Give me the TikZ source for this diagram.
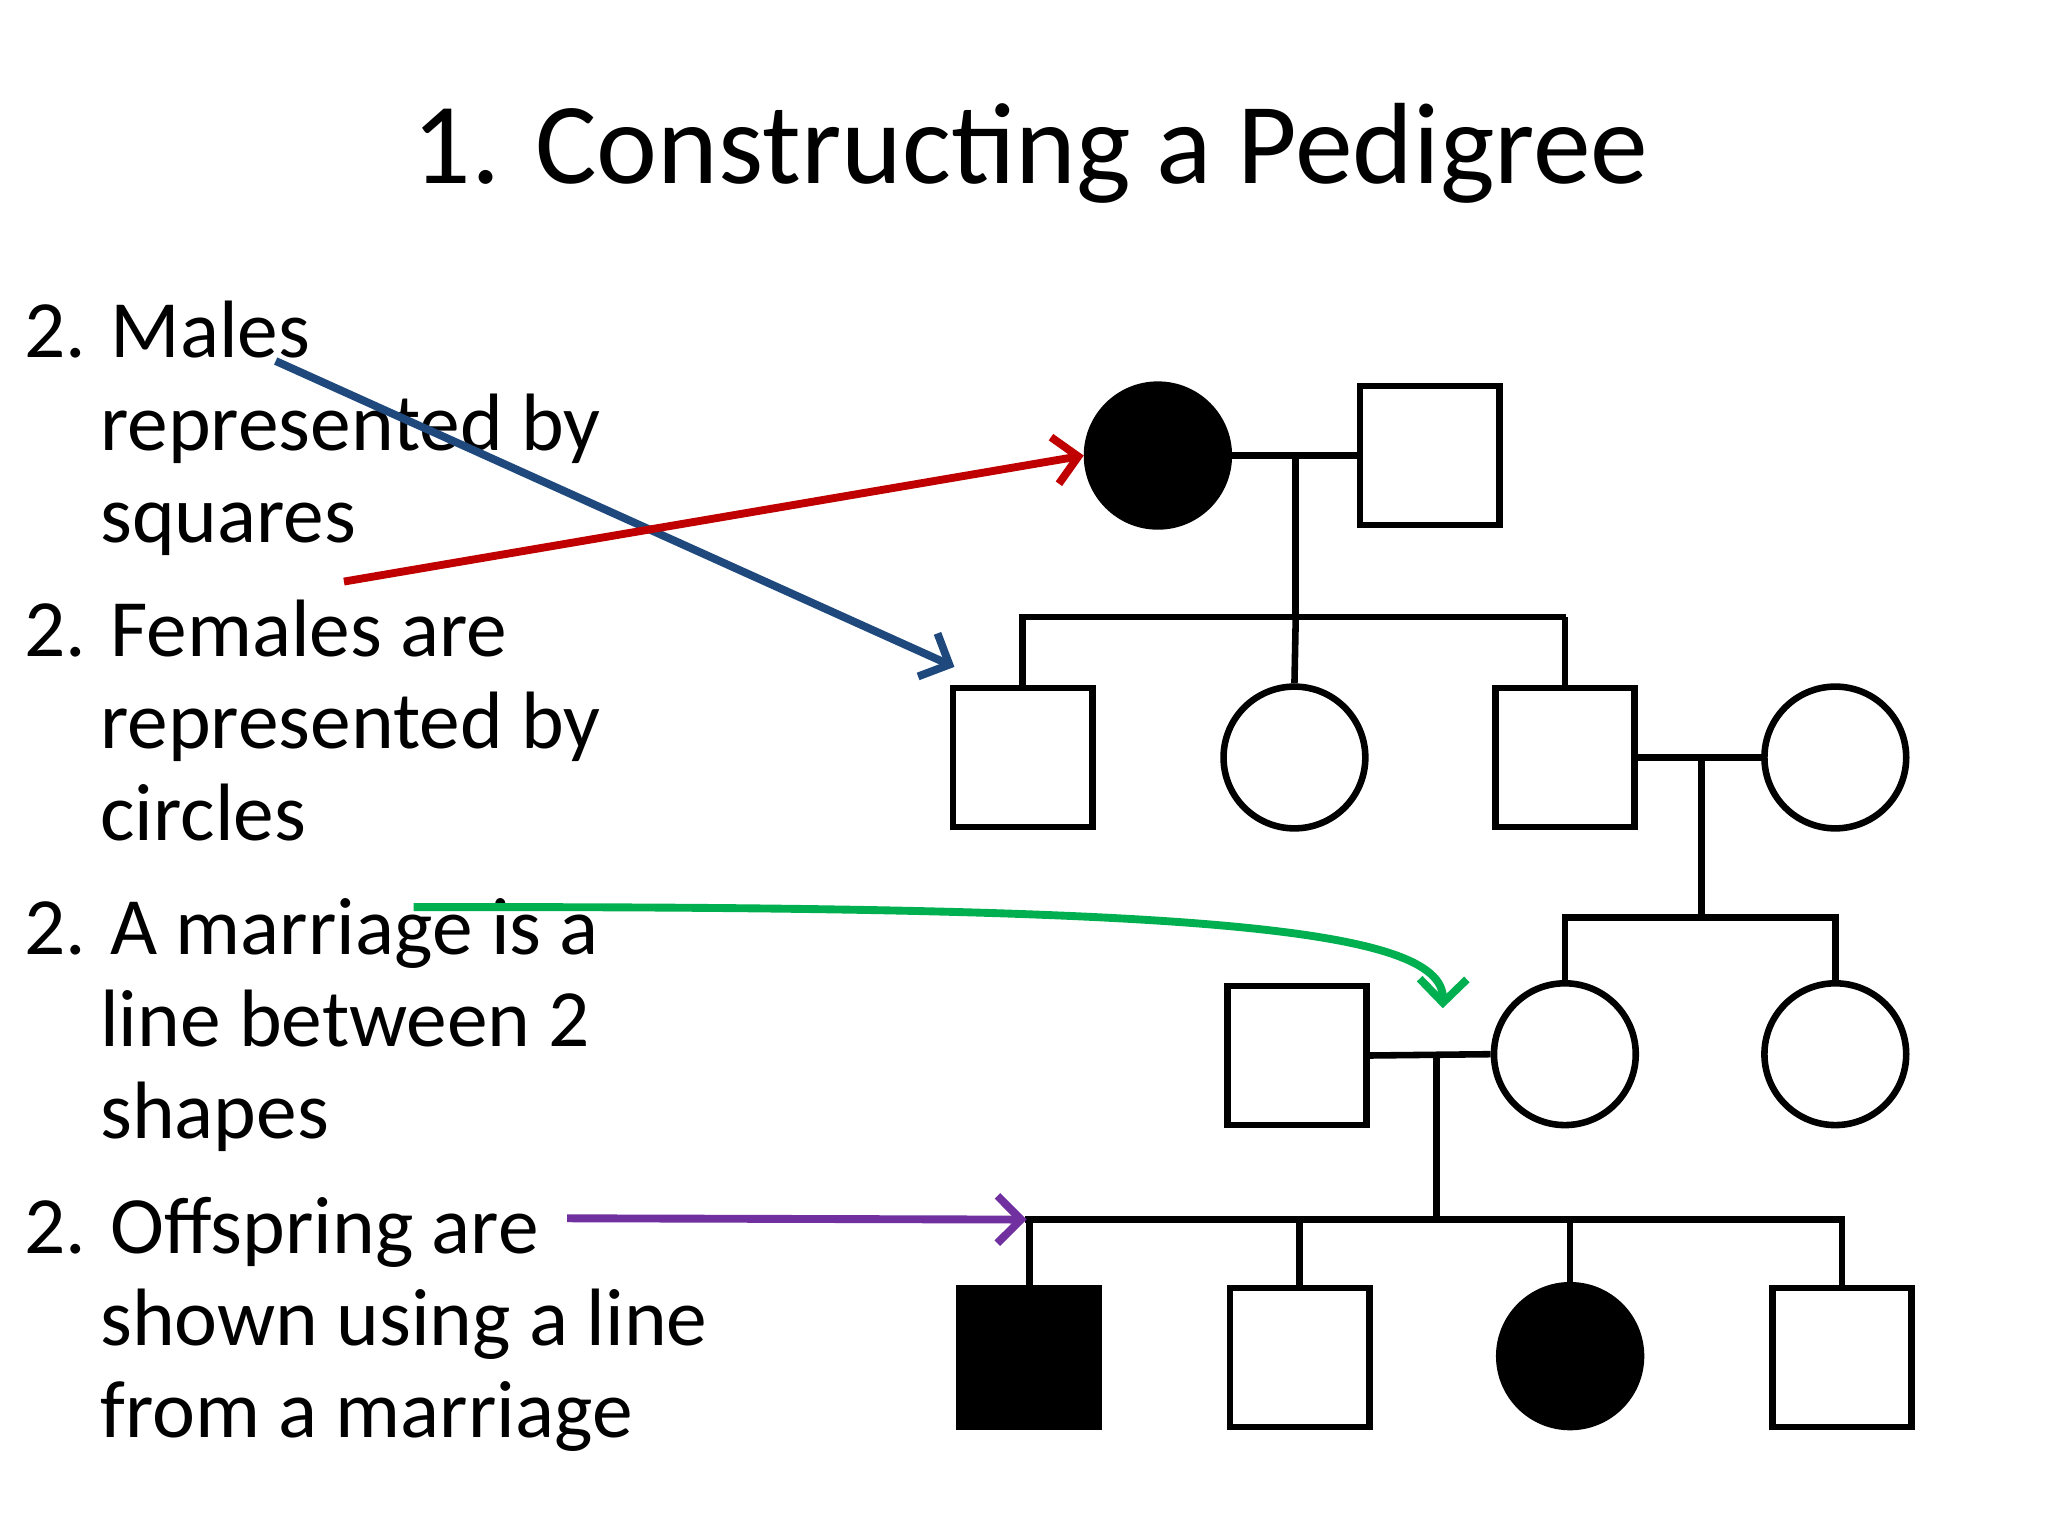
\documentclass[tikz,border=0pt]{standalone}
\usepackage{fontspec}
\setmainfont{Carlito}
\usetikzlibrary{arrows.meta}
\begin{document}
\begin{tikzpicture}[x=0.5pt,y=-0.5pt,
  sq/.style={draw,line width=2.5pt,minimum size=53pt,inner sep=0pt},
  ci/.style={draw,circle,line width=2.5pt,minimum size=54pt,inner sep=0pt},
  ln/.style={line width=2.5pt},
  txt/.style={anchor=base west,inner sep=0pt,font=\fontsize{31}{37}\selectfont},
  arr/.style={line width=3pt,-{Straight Barb[length=9pt,width=18pt,line width=3pt]}}]
\useasboundingbox (0,0) rectangle (1560,1170);
\node[anchor=base,inner sep=0pt,font=\fontsize{44}{50}\selectfont] (title) at (785,140) {1. Constructing a Pedigree};
% text
\node[txt] (t1) at (18,272) {2. Males};
\node[txt] (t2) at (76,343) {represented by};
\node[txt] (t3) at (76,413) {squares};
\node[txt] (t4) at (18,500) {2. Females are};
\node[txt] (t5) at (76,570) {represented by};
\node[txt] (t6) at (76,640) {circles};
\node[txt] (t7) at (18,727) {2. A marriage is a};
\node[txt] (t8) at (76,797) {line between 2};
\node[txt] (t9) at (76,867) {shapes};
\node[txt] (t10) at (18,955) {2. Offspring are};
\node[txt] (t11) at (76,1025) {shown using a line};
\node[txt] (t12) at (76,1095) {from a marriage};
% gen1
\node[ci,fill=black] (g1f) at (882,347) {};
\node[sq] (g1m) at (1089,347) {};
% gen2
\node[sq] (a1) at (779,577) {};
\node[ci] (a2) at (986,577) {};
\node[sq] (a3) at (1192,577) {};
\node[ci] (a4) at (1398,577) {};
% gen3
\node[sq] (b1) at (988,804) {};
\node[ci] (b2) at (1192,803) {};
\node[ci] (b3) at (1398,803) {};
% gen4
\node[sq,fill=black] (c1) at (784,1034) {};
\node[sq] (c2) at (990,1034) {};
\node[ci,fill=black] (c3) at (1196,1033) {};
\node[sq] (c4) at (1403,1034) {};
% lines gen1
\coordinate (m1) at (987,347);
\draw[ln] (g1f.east) -- (g1m.west);
\draw[ln] (m1) -- (987,470) coordinate (s1);
\draw[ln,line cap=rect] (779,470) -- (1190,470);
\draw[ln] (779,470) -- (a1.north);
\draw[ln] (s1) -- (a2.north);
\draw[ln] (a3.north|-s1) -- (a3.north);
% gen2 marriage
\draw[ln] (a3.east) -- (a4.west);
\draw[ln] (1296,577) -- (1296,699) coordinate (s2);
\draw[ln,line cap=rect] (1192,699) -- (1398,699);
\draw[ln] (b2.north|-s2) -- (b2.north);
\draw[ln] (b3.north|-s2) -- (b3.north);
% gen3 marriage
\draw[ln] (b1.east) -- (b2.west);
\draw[ln] (1094,803) -- (1094,929) coordinate (s3);
\draw[ln,line cap=rect] (783,929) -- (1403,929);
\draw[ln] (c1.north|-s3) -- (c1.north);
\draw[ln] (c2.north|-s3) -- (c2.north);
\draw[ln] (c3.north|-s3) -- (c3.north);
\draw[ln] (c4.north|-s3) -- (c4.north);
% arrows
\coordinate (bs) at (210,275); \coordinate (be) at (727,508);
\coordinate (rs) at (262,443);
\coordinate (gs) at (315,691); \coordinate (ge) at (1099,768);
\coordinate (ps) at (432,928); \coordinate (pe) at (782,929);
\draw[arr,color={rgb,255:red,31;green,73;blue,125}] (bs) -- (be);
\draw[arr,color={rgb,255:red,192;green,0;blue,0}] (rs) -- (g1f.west);
\draw[arr,color={rgb,255:red,0;green,176;blue,80}] (gs) .. controls (900,690) and (1100,705) .. (ge);
\draw[arr,color={rgb,255:red,112;green,48;blue,160}] (ps) -- (pe);
\end{tikzpicture}
\end{document}
